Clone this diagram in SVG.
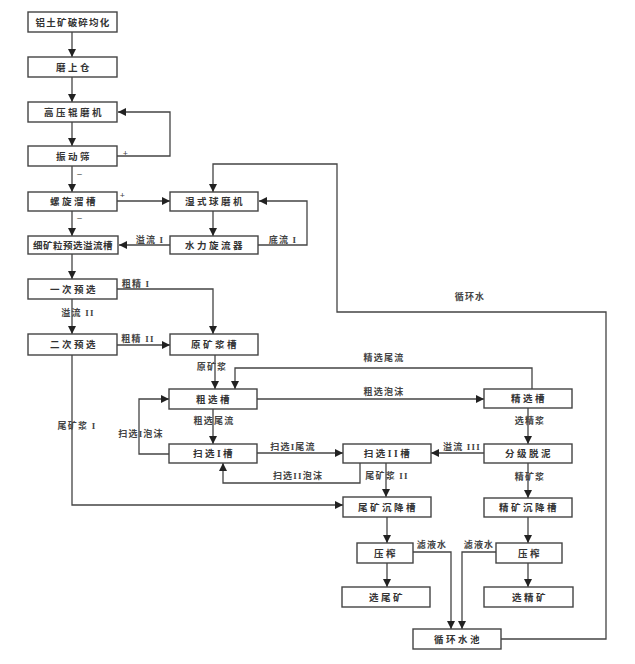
<svg xmlns="http://www.w3.org/2000/svg" width="635" height="664" viewBox="0 0 635 664">
<style>
.box{fill:#fff;stroke:#444;stroke-width:1.4}
.t{font-family:"Liberation Serif","Noto Sans CJK SC",serif;font-size:9.5px;font-weight:bold;fill:#333;text-anchor:middle;letter-spacing:2.5px}
.l{font-family:"Liberation Serif","Noto Sans CJK SC",serif;font-size:9px;font-weight:bold;fill:#444;text-anchor:middle;letter-spacing:1.2px}
.c{fill:none;stroke:#444;stroke-width:1.3}
</style>
<defs>
<marker id="a" viewBox="0 0 10 10" refX="10" refY="5" markerWidth="9" markerHeight="8" markerUnits="userSpaceOnUse" orient="auto">
<path d="M0,0L10,5L0,10z" fill="#222"/>
</marker>
</defs>
<rect width="635" height="664" fill="#fff"/>
<g id="connectors">
<path class="c" marker-end="url(#a)" d="M72,32V57"/>
<path class="c" marker-end="url(#a)" d="M72,77V102"/>
<path class="c" marker-end="url(#a)" d="M72,122V146"/>
<path class="c" marker-end="url(#a)" d="M117,156H170V112H118"/>
<path class="c" marker-end="url(#a)" d="M72,166V192"/>
<path class="c" marker-end="url(#a)" d="M117,201H170"/>
<path class="c" marker-end="url(#a)" d="M72,211V236"/>
<path class="c" marker-end="url(#a)" d="M213,211V236"/>
<path class="c" marker-end="url(#a)" d="M170,245H119"/>
<path class="c" marker-end="url(#a)" d="M258,245H307V201H259"/>
<path class="c" marker-end="url(#a)" d="M501,639H606V312H337V164H213V192"/>
<path class="c" marker-end="url(#a)" d="M72,254V279"/>
<path class="c" marker-end="url(#a)" d="M117,289H213V334"/>
<path class="c" marker-end="url(#a)" d="M72,299V334"/>
<path class="c" marker-end="url(#a)" d="M117,345H170"/>
<path class="c" marker-end="url(#a)" d="M72,355V505H343"/>
<path class="c" marker-end="url(#a)" d="M215,355V389"/>
<path class="c" marker-end="url(#a)" d="M532,389V368H235V389"/>
<path class="c" marker-end="url(#a)" d="M257,399H484"/>
<path class="c" marker-end="url(#a)" d="M213,409V444"/>
<path class="c" marker-end="url(#a)" d="M169,454H139V399H169"/>
<path class="c" marker-end="url(#a)" d="M257,453H343"/>
<path class="c" marker-end="url(#a)" d="M360,463V483H223V463"/>
<path class="c" marker-end="url(#a)" d="M386,463V497"/>
<path class="c" marker-end="url(#a)" d="M528,408V444"/>
<path class="c" marker-end="url(#a)" d="M484,453H431"/>
<path class="c" marker-end="url(#a)" d="M528,463V498"/>
<path class="c" marker-end="url(#a)" d="M387,517V543"/>
<path class="c" marker-end="url(#a)" d="M387,563V587"/>
<path class="c" marker-end="url(#a)" d="M528,517V543"/>
<path class="c" marker-end="url(#a)" d="M528,563V587"/>
<path class="c" marker-end="url(#a)" d="M413,552H451V629"/>
<path class="c" marker-end="url(#a)" d="M496,552H462V629"/>
<text class="l" x="126" y="156">+</text>
<text class="l" x="80" y="176">–</text>
<text class="l" x="123" y="198">+</text>
<text class="l" x="80" y="220">–</text>
<text class="l" x="150" y="243">溢流 I</text>
<text class="l" x="283" y="243">底流 I</text>
<text class="l" x="470" y="300">循环水</text>
<text class="l" x="136" y="287">粗精 I</text>
<text class="l" x="78" y="316">溢流 II</text>
<text class="l" x="138" y="342">粗精 II</text>
<text class="l" x="77" y="429">尾矿浆 I</text>
<text class="l" x="212" y="370">原矿浆</text>
<text class="l" x="384" y="361">精选尾流</text>
<text class="l" x="384" y="395">粗选泡沫</text>
<text class="l" x="214" y="424">粗选尾流</text>
<text class="l" x="141" y="437">扫选I泡沫</text>
<text class="l" x="293" y="450">扫选I尾流</text>
<text class="l" x="298" y="479">扫选II泡沫</text>
<text class="l" x="387" y="479">尾矿浆 II</text>
<text class="l" x="462" y="450">溢流 III</text>
<text class="l" x="530" y="424">选精浆</text>
<text class="l" x="530" y="480">精矿浆</text>
<text class="l" x="432" y="548">滤液水</text>
<text class="l" x="479" y="548">滤液水</text>
</g>
<g id="n1"><rect class="box" x="28" y="12" width="89" height="20"/><text class="t" x="73" y="25.5" style="letter-spacing:1.2px">铝土矿破碎均化</text></g>
<g id="n2"><rect class="box" x="28" y="57" width="89" height="20"/><text class="t" x="74" y="70.5">磨上仓</text></g>
<g id="n3"><rect class="box" x="28" y="102" width="89" height="20"/><text class="t" x="74" y="115.5">高压辊磨机</text></g>
<g id="n4"><rect class="box" x="28" y="146" width="89" height="20"/><text class="t" x="74" y="159.5">振动筛</text></g>
<g id="n5"><rect class="box" x="28" y="192" width="89" height="19"/><text class="t" x="74" y="205">螺旋溜槽</text></g>
<g id="n6"><rect class="box" x="28" y="236" width="90" height="18"/><text class="t" x="73" y="248.5" style="letter-spacing:0.5px">细矿粒预选溢流槽</text></g>
<g id="n7"><rect class="box" x="28" y="279" width="89" height="20"/><text class="t" x="74" y="292.5">一次预选</text></g>
<g id="n8"><rect class="box" x="28" y="334" width="89" height="21"/><text class="t" x="74" y="348">二次预选</text></g>
<g id="n9"><rect class="box" x="170" y="192" width="88" height="19"/><text class="t" x="215" y="205">湿式球磨机</text></g>
<g id="n10"><rect class="box" x="170" y="236" width="88" height="18"/><text class="t" x="215" y="248.5">水力旋流器</text></g>
<g id="n11"><rect class="box" x="170" y="334" width="88" height="21"/><text class="t" x="215" y="348">原矿浆槽</text></g>
<g id="n12"><rect class="box" x="169" y="389" width="88" height="20"/><text class="t" x="214" y="402.5">粗选槽</text></g>
<g id="n13"><rect class="box" x="169" y="444" width="88" height="19"/><text class="t" x="214" y="457">扫选I槽</text></g>
<g id="n14"><rect class="box" x="343" y="444" width="88" height="19"/><text class="t" x="388" y="457">扫选II槽</text></g>
<g id="n15"><rect class="box" x="343" y="497" width="88" height="20"/><text class="t" x="388" y="510.5">尾矿沉降槽</text></g>
<g id="n16"><rect class="box" x="484" y="389" width="88" height="19"/><text class="t" x="529" y="402">精选槽</text></g>
<g id="n17"><rect class="box" x="484" y="444" width="88" height="19"/><text class="t" x="529" y="457">分级脱泥</text></g>
<g id="n18"><rect class="box" x="484" y="498" width="88" height="19"/><text class="t" x="529" y="511">精矿沉降槽</text></g>
<g id="n19"><rect class="box" x="357" y="543" width="56" height="20"/><text class="t" x="386" y="556.5">压榨</text></g>
<g id="n20"><rect class="box" x="342" y="587" width="88" height="20"/><text class="t" x="387" y="600.5">选尾矿</text></g>
<g id="n21"><rect class="box" x="496" y="543" width="66" height="20"/><text class="t" x="530" y="556.5">压榨</text></g>
<g id="n22"><rect class="box" x="484" y="587" width="89" height="20"/><text class="t" x="530" y="600.5">选精矿</text></g>
<g id="n23"><rect class="box" x="413" y="629" width="88" height="20"/><text class="t" x="458" y="642.5">循环水池</text></g>
</svg>
